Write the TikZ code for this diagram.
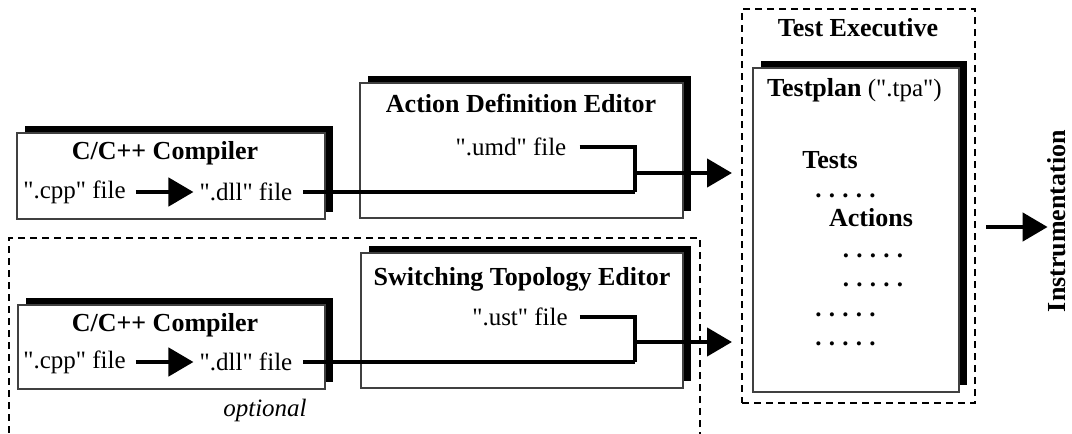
\documentclass[tikz,border=0pt]{standalone}
\usepackage{fontspec}
\setmainfont{Liberation Serif}[Ligatures=TeXOff]
\usetikzlibrary{arrows.meta,shadows}
\newcommand\dotrow{\bfseries .\hspace{7.2pt}.\hspace{7.2pt}.\hspace{7.2pt}.\hspace{7.2pt}.}
\begin{document}
\begin{tikzpicture}[x=1pt,y=-1pt,
  font=\fontsize{25}{30}\selectfont,
  panel/.style={draw=black!75, line width=1.2pt, fill=white, inner sep=0pt,
    general shadow={fill=black, shadow xshift=8pt, shadow yshift=7pt}},
  lbl/.style={inner sep=0pt},
  ttl/.style={inner sep=0pt, font=\fontsize{26}{30}\selectfont\bfseries},
  conn/.style={line width=4.5pt},
  arr/.style={line width=4.5pt, -{Triangle[length=25pt,width=28pt]}},
  frame/.style={draw, line width=1.8pt, dash pattern=on 7pt off 5pt, inner sep=0pt}
]
\clip (0,0) rectangle (1072,434);
\fill[white] (0,0) rectangle (1072,434);

% dashed frames
\node[frame, minimum width=691pt, minimum height=230pt] (opt) at (354.5,353) {};
\node[frame, minimum width=233pt, minimum height=394pt] (te) at (858.5,206) {};
\node[ttl] (tetitle) at (858,28) {Test Executive};
\node[lbl, font=\fontsize{25}{30}\selectfont\itshape] (optlbl) at (265,410) {optional};

% panels
\node[panel, minimum width=308pt, minimum height=86pt] (cc1) at (171,176) {};
\node[panel, minimum width=323pt, minimum height=135pt] (ade) at (521.5,150.5) {};
\node[panel, minimum width=206pt, minimum height=324pt] (tp) at (856,230) {};
\node[panel, minimum width=322pt, minimum height=135pt] (ste) at (522,320.5) {};
\node[panel, minimum width=307pt, minimum height=84pt] (cc2) at (171.5,347) {};

% upper compiler
\node[ttl] (cc1title) at (165,153) {C/C++ Compiler};
\node[lbl] (cpp1) at (74.5,192) {".cpp" file};
\node[lbl] (dll1) at (246,192) {".dll" file};
\draw[arr, shorten <=10pt, shorten >=6pt] (cpp1) -- (dll1);

% action definition editor
\node[ttl] (adetitle) at (521,103) {Action Definition Editor};
\node[lbl] (umd) at (511,147) {".umd" file};
\coordinate (m1) at (635,173);
\coordinate (a1) at (732,173);
\draw[conn, shorten <=13pt] (umd.east) -| (m1 |- dll1.east);
\draw[conn, shorten >=10pt] (m1 |- dll1.east) -- (dll1.east);
\draw[arr] (m1) -- (a1);

% lower compiler
\node[ttl] (cc2title) at (165,325) {C/C++ Compiler};
\node[lbl] (cpp2) at (74.5,362) {".cpp" file};
\node[lbl] (dll2) at (246,362) {".dll" file};
\draw[arr, shorten <=10pt, shorten >=6pt] (cpp2) -- (dll2);

% switching topology editor
\node[ttl] (stetitle) at (522,279) {Switching Topology Editor};
\node[lbl] (ust) at (520,317) {".ust" file};
\coordinate (m2) at (635,342);
\coordinate (a2) at (732,342);
\draw[conn, shorten <=12pt] (ust.east) -| (m2 |- dll2.east);
\draw[conn, shorten >=10pt] (m2 |- dll2.east) -- (dll2.east);
\draw[arr] (m2) -- (a2);

% testplan contents
\node[lbl, anchor=west] (tpname) at (767,90) {{\fontsize{26}{30}\selectfont\bfseries Testplan} (".tpa")};
\node[ttl] (tests) at (830,160) {Tests};
\node[lbl] (d1) at (845.5,196) {\dotrow};
\node[ttl] (actions) at (871,218) {Actions};
\node[lbl] (d2) at (873,256) {\dotrow};
\node[lbl] (d3) at (873,285) {\dotrow};
\node[lbl] (d4) at (845.5,315) {\dotrow};
\node[lbl] (d5) at (845.5,344) {\dotrow};

% output to instrumentation
\node[ttl, rotate=90] (instr) at (1057,221) {Instrumentation};
\coordinate (i1) at (986,227);
\draw[arr] (i1) -- (i1 -| instr.north);
\end{tikzpicture}
\end{document}
